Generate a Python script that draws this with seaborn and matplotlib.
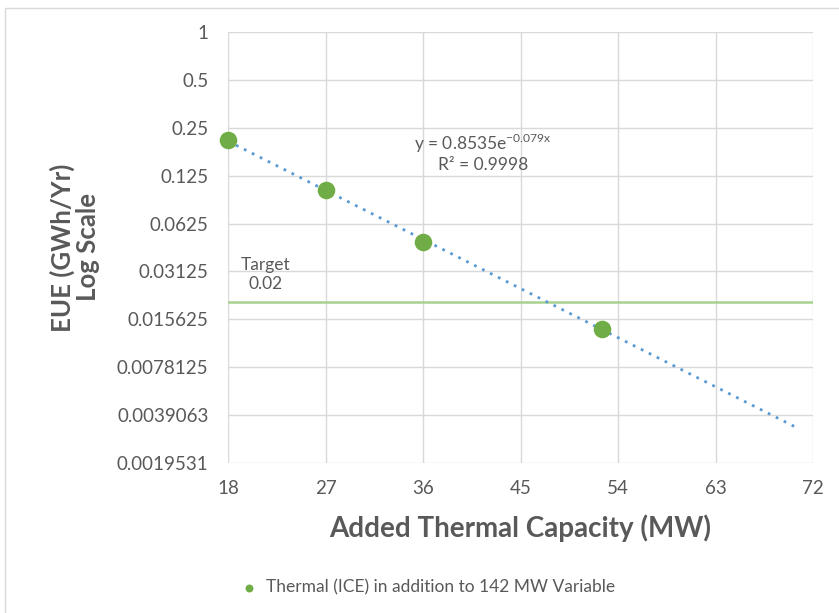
import matplotlib
matplotlib.use('Agg')
import matplotlib.pyplot as plt
import seaborn as sns
import numpy as np
import pandas as pd

# 数据
capacity_mw = [18, 27, 36, 52.5]
eue_gwh = [0.21, 0.102, 0.048, 0.0136]
target_eue = 0.02
fit_a = 0.8535
fit_b = -0.079
fit_x_range = [18, 70.3]
x_ticks = [18, 27, 36, 45, 54, 63, 72]
y_ticks = [1, 0.5, 0.25, 0.125, 0.0625, 0.03125, 0.015625, 0.0078125, 0.0039063, 0.0019531]
y_tick_labels = ['1', '0.5', '0.25', '0.125', '0.0625', '0.03125', '0.015625',
                 '0.0078125', '0.0039063', '0.0019531']
series_name = 'Thermal (ICE) in addition to 142 MW Variable'

sns.set_style('white')
plt.rcParams['font.family'] = ['Lato', 'DejaVu Sans']

text_grey = '#595959'
green = '#70AD47'
blue = '#5B9BD5'
light_green = '#A9D18E'

df = pd.DataFrame({'x': capacity_mw, 'y': eue_gwh})

# 趋势线
fit_x = np.linspace(fit_x_range[0], fit_x_range[1], 200)
fit_df = pd.DataFrame({'x': fit_x, 'y': fit_a * np.exp(fit_b * fit_x)})

fig = plt.figure(figsize=(8.39, 6.13), dpi=100)
ax = fig.add_axes([0.2718, 0.2447, 0.6973, 0.7031])

# 外框
fig.patches.append(plt.Rectangle((0.006, -0.01), 1.0, 0.997, transform=fig.transFigure,
                                 fill=False, edgecolor='#d9d9d9', linewidth=1.0))

ax.axhline(target_eue, color=light_green, linewidth=1.8, zorder=2)
sns.lineplot(data=fit_df, x='x', y='y', ax=ax, color=blue, linestyle=(0, (1, 2.2)),
             linewidth=2.0, zorder=3, legend=False)
sns.scatterplot(data=df, x='x', y='y', ax=ax, color=green, s=160, edgecolor=green,
                linewidth=0, zorder=4, label=series_name, clip_on=False)

ax.set_yscale('log', base=2)
ax.set_xlim(18, 72)
ax.set_ylim(min(y_ticks), max(y_ticks))
ax.set_xticks(x_ticks)
ax.set_xticklabels([str(t) for t in x_ticks])
ax.set_yticks(y_ticks)
ax.set_yticklabels(y_tick_labels)
ax.minorticks_off()
ax.tick_params(axis='both', colors=text_grey, labelsize=13.5, length=0)
ax.tick_params(axis='x', pad=12)
ax.tick_params(axis='y', pad=14)

ax.grid(True, color='#d9d9d9', linewidth=1.0)
for s in ax.spines.values():
    s.set_visible(False)

ax.set_xlabel('Added Thermal Capacity (MW)', fontsize=20, fontweight='bold',
              color=text_grey, labelpad=13)
ax.set_ylabel('EUE (GWh/Yr)\nLog Scale', fontsize=18.5, fontweight='bold',
              color=text_grey, labelpad=12, linespacing=1.05)

ax.text(41.5, 0.200, r'y = 0.8535e$^{\mathregular{-0.079x}}$', ha='center', va='center',
        fontsize=12.5, color=text_grey)
ax.text(41.5, 0.146, 'R² = 0.9998', ha='center', va='center',
        fontsize=12.5, color=text_grey)
ax.text(21.5, 0.0300, 'Target\n0.02', ha='center', va='center', fontsize=12.5,
        color=text_grey, linespacing=1.25)

leg = ax.legend(loc='center', bbox_to_anchor=(0.505, 0.042), bbox_transform=fig.transFigure,
                frameon=False, fontsize=12.5, handletextpad=0.0, markerscale=0.45,
                labelcolor=text_grey)

fig.savefig('out.png', dpi=100)
